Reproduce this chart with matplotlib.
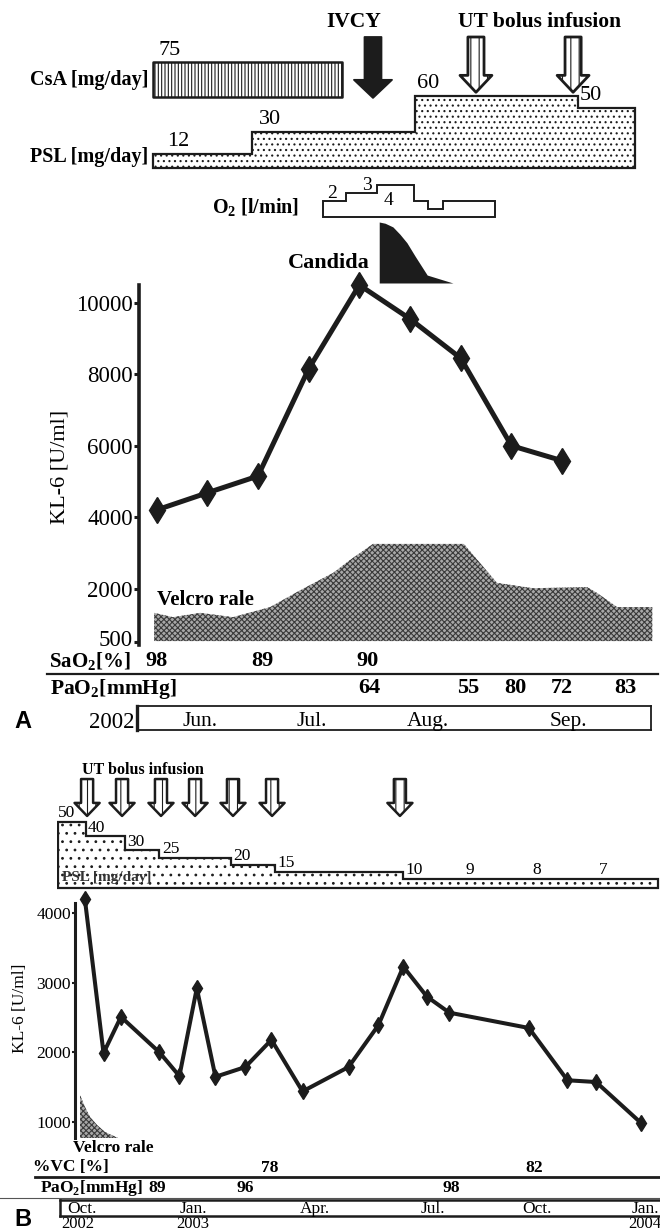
import numpy as np
import matplotlib
matplotlib.use("Agg")
import matplotlib.pyplot as plt
from matplotlib import transforms
from matplotlib.lines import Line2D

plt.rcParams['font.family'] = 'Liberation Serif'
plt.rcParams['mathtext.fontset'] = 'custom'
plt.rcParams['mathtext.rm'] = 'Liberation Serif'
plt.rcParams['mathtext.bf'] = 'Liberation Serif:bold'
plt.rcParams['hatch.linewidth'] = 0.8

INK = '#1c1c1c'

# ---------------- panel A (x = days, starting early June 2002) ----------------
kl_a_day = [5, 18, 31, 44, 57, 70, 83, 96, 109]
kl_a = [4200, 4680, 5150, 8150, 10500, 9550, 8450, 6000, 5580]

rale_a_day = [4.4, 9.2, 16.2, 24.6, 34.1, 41.8, 50.3, 54.6, 60.5, 83.8, 87.9,
              92.3, 101.5, 115.4, 117.9, 123.1, 132.1]
rale_a = [1320, 1200, 1320, 1200, 1480, 1950, 2440, 2800, 3250, 3250, 2720,
          2160, 2010, 2040, 1880, 1480, 1480]

csa_day = [4.1, 52.6]
csa_dose = 75
psl_a_edges = [4.1, 29.5, 71.3, 113.1, 127.7]
psl_a = [12, 30, 60, 50]
o2_edges = [47.7, 53.6, 61.5, 71.0, 74.6, 78.5, 91.8]
o2_flow = [2, 3, 4, 2, 1, 2]
candida_day = [62.1, 63.6, 65.6, 67.4, 69.2, 71.3, 74.4, 81.0]
candida = [100, 98, 92, 80, 66, 44, 13, 0]
ivcy_day = 60.5
ut_a_day = [86.9, 111.8]

sao2_a_day = [5.1, 32.1, 59.2]
sao2_a = [98, 89, 90]
pao2_a_day = [59.5, 84.9, 96.9, 109, 125.1]
pao2_a = [64, 55, 80, 72, 83]
month_a = ['Jun.', 'Jul.', 'Aug.', 'Sep.']
month_a_day = [16.2, 44.9, 74.6, 110.5]

# ---------------- panel B (x = days from 1 Oct 2002) ----------------
kl_b_day = [5, 20, 34, 65, 81, 95, 110, 134, 155, 180, 217, 241, 261, 280,
            298, 362, 393, 416, 452]
kl_b = [4200, 1990, 2510, 2000, 1660, 2920, 1650, 1790, 2180, 1440, 1790,
        2390, 3230, 2800, 2570, 2350, 1600, 1575, 990]
rale_b_day = [1.1, 5.1, 9.2, 14.8, 21.2, 31.7]
rale_b = [1389, 1217, 1073, 958, 858, 772]

psl_b_edges = [-16.8, 6, 37.3, 64.6, 122.5, 157.9, 260.8, 465.8]
psl_b = [50, 40, 30, 25, 20, 15, 10]
psl_b_later = [9, 8, 7]
ut_b_day = [6.8, 34.9, 66.2, 93.6, 124.1, 155.5, 258.3]

vc_day = [154, 366]
vc = [78, 82]
pao2_b_day = [63, 134, 300]
pao2_b = [89, 96, 98]
month_b = ['Oct.', 'Jan.', 'Apr.', 'Jul.', 'Oct.', 'Jan.']
month_b_day = [2.7, 92, 190, 285, 368.5, 456]
year_b = ['2002', '2003', '2004']
year_b_day = [-0.5, 92, 455]

W, H = 660, 1232
fig = plt.figure(figsize=(W / 100, H / 100), dpi=100)


def px_axes(x0, y0, x1, y1):
    a = fig.add_axes([x0 / W, 1 - y1 / H, (x1 - x0) / W, (y1 - y0) / H])
    a.set_facecolor('none')
    return a


def ftxt(x, y, s, **kw):
    kw.setdefault('va', 'center')
    return fig.text(x / W, 1 - y / H, s, **kw)


def hline(x0, x1, y, lw=1.5, color=INK):
    fig.add_artist(Line2D([x0 / W, x1 / W], [1 - y / H, 1 - y / H],
                          transform=fig.transFigure, color=color, lw=lw))


def step_poly(edges, vals, base):
    xs, ys = [edges[0]], [base]
    for i, v in enumerate(vals):
        xs += [edges[i], edges[i + 1]]
        ys += [v, v]
    xs.append(edges[-1])
    ys.append(base)
    return xs, ys


def down_arrow(ax, x, y0, y1, scale, hw, tw, hl, hollow, lw=1.3):
    style = 'simple,head_length=%g,head_width=%g,tail_width=%g' % (hl, hw, tw)
    props = dict(arrowstyle=style, mutation_scale=scale, shrinkA=0, shrinkB=0,
                 lw=lw, ec=INK)
    if hollow:
        props.update(fc='white', hatch='||')
    else:
        props.update(fc=INK)
    ax.annotate('', xy=(x, y1), xytext=(x, y0), arrowprops=props)


XA = (0, 132.8)

# --- treatment block, panel A ---
ax_arr = px_axes(137, 30, 655, 100)
ax_arr.set_xlim(*XA); ax_arr.set_ylim(0, 1); ax_arr.axis('off')
down_arrow(ax_arr, ivcy_day, 0.9, 0.03, 20, 1.37, 0.61, 0.65, False)
for d in ut_a_day:
    down_arrow(ax_arr, d, 0.9, 0.11, 20, 1.15, 0.58, 0.61, True, lw=2)
ftxt(354, 22, 'IVCY', ha='center', fontsize=15.5, fontweight='bold')
ftxt(540, 22, 'UT bolus infusion', ha='center', fontsize=15.5, fontweight='bold')

ax_csa = px_axes(137, 55, 655, 100)
ax_csa.set_xlim(*XA); ax_csa.set_ylim(-6.4, 90); ax_csa.axis('off')
ax_csa.fill_between(csa_day, 0, csa_dose, facecolor='white', edgecolor=INK,
                    hatch='|||||', lw=1.8)
ax_csa.annotate(str(csa_dose), (5.4, csa_dose), xytext=(0, 1.5),
                textcoords='offset points', va='bottom', fontsize=16,
                annotation_clip=False)
ftxt(148, 80, 'CsA [mg/day]', ha='right', fontsize=14.5, fontweight='bold')

ax_psl = px_axes(137, 90, 655, 170)
ax_psl.set_xlim(*XA); ax_psl.set_ylim(-1.67, 65); ax_psl.axis('off')
px_, py_ = step_poly(psl_a_edges, psl_a, 0)
ax_psl.fill(px_, py_, facecolor='white', edgecolor=INK, hatch='...', lw=1.6)
for d, v in zip([7.7, 31.3, 71.8, 113.6], psl_a):
    ax_psl.annotate(str(v), (d, v), xytext=(0, 2), textcoords='offset points',
                    va='bottom', fontsize=16, annotation_clip=False)
ftxt(148, 157, 'PSL [mg/day]', ha='right', fontsize=14.5, fontweight='bold')

ax_o2 = px_axes(137, 175, 655, 220)
ax_o2.set_xlim(*XA); ax_o2.set_ylim(-0.37, 5.19); ax_o2.axis('off')
px_, py_ = step_poly(o2_edges, o2_flow, 0)
ax_o2.fill(px_, py_, facecolor='white', edgecolor=INK, lw=1.4)
for d, y, v in zip([50, 59, 64.6], [2.96, 3.95, 2.1], o2_flow[:3]):
    ax_o2.text(d, y, str(v), ha='center', va='center', fontsize=14)
ftxt(299, 208, r'O$_\mathbf{2}$ [l/min]', ha='right', fontsize=14.5,
     fontweight='bold')

ax_can = px_axes(137, 220, 655, 285)
ax_can.set_xlim(*XA); ax_can.set_ylim(-3.3, 103.3); ax_can.axis('off')
ax_can.fill_between(candida_day, 0, candida, color=INK, lw=0)
ftxt(370, 263, 'Candida', ha='right', fontsize=16, fontweight='bold')

# --- KL-6, panel A ---
ax = px_axes(137, 285, 655, 645)
ax.set_xlim(*XA); ax.set_ylim(420, 10500)
for s in ['top', 'right', 'bottom']:
    ax.spines[s].set_visible(False)
ax.spines['left'].set_position(('data', 0.5))
ax.spines['left'].set_linewidth(2.6)
ax.spines['left'].set_color(INK)
ax.set_xticks([])
ax.set_yticks([500, 2000, 4000, 6000, 8000, 10000])
ax.tick_params(axis='y', length=3.5, width=2.2, pad=1, labelsize=16.5,
               color=INK)
# nudge the lowest label up a little so it sits on top of the SaO2 row
lab500 = ax.get_yticklabels()[0]
lab500.set_transform(lab500.get_transform() +
                     transforms.ScaledTranslation(0, 4 / 100, fig.dpi_scale_trans))
ax.fill_between(rale_a_day, 530, rale_a, facecolor='#a8a8a8',
                edgecolor='#3a3a3a', hatch='xxxxxx', lw=0)
ax.plot(kl_a_day, kl_a, color=INK, lw=3.6, marker='d', ms=13, clip_on=False,
        zorder=5)
ax.text(5.1, 1680, 'Velcro rale', fontsize=15, fontweight='bold', va='center')
ftxt(60, 467, 'KL-6 [U/ml]', rotation=90, ha='center', fontsize=16)

ta = transforms.blended_transform_factory(ax.transData, fig.transFigure)
ftxt(49, 662, r'SaO$_\mathbf{2}$[%]', fontsize=15, fontweight='bold')
for d, v in zip(sao2_a_day, sao2_a):
    ax.text(d, 1 - 661 / H, str(v), transform=ta, ha='center', va='center',
            fontsize=16, fontweight='bold')
hline(47, 658, 674, lw=1.6)
ftxt(50, 689, r'PaO$_\mathbf{2}$[mmHg]', fontsize=15.5, fontweight='bold')
for d, v in zip(pao2_a_day, pao2_a):
    ax.text(d, 1 - 688 / H, str(v), transform=ta, ha='center', va='center',
            fontsize=16, fontweight='bold')

ax_ta = px_axes(137, 706, 651, 730)
ax_ta.set_xlim(0, 131.8); ax_ta.set_ylim(0, 1)
ax_ta.set_xticks([]); ax_ta.set_yticks([])
for s in ax_ta.spines.values():
    s.set_linewidth(1.3); s.set_color(INK)
ax_ta.spines['left'].set_linewidth(2.4)
for d, m in zip(month_a_day, month_a):
    ax_ta.text(d, 0.36, m, ha='center', va='center', fontsize=15.5)
ftxt(134, 722, '2002', ha='right', fontsize=16.5)
ftxt(14, 722, 'A', fontsize=17, fontweight='bold', family='Liberation Sans')

# ---------------- panel B ----------------
XB = (-17.4, 467.4)
ftxt(82, 770, 'UT bolus infusion', fontsize=11.5, fontweight='bold')
ax_arr_b = px_axes(57, 775, 660, 820)
ax_arr_b.set_xlim(*XB); ax_arr_b.set_ylim(0, 1); ax_arr_b.axis('off')
for d in ut_b_day:
    down_arrow(ax_arr_b, d, 0.91, 0.09, 14, 1.29, 0.62, 0.67, True, lw=1.8)

ax_pb = px_axes(57, 810, 660, 890)
ax_pb.set_xlim(*XB); ax_pb.set_ylim(2.3, 58.4); ax_pb.axis('off')
px_, py_ = step_poly(psl_b_edges, psl_b, 3.7)
ax_pb.fill(px_, py_, facecolor='white', edgecolor=INK, hatch='..', lw=1.6)
for d, v in zip([-16.4, 7.6, 38.9, 67, 124.1, 159.5, 262.4], psl_b):
    ax_pb.annotate(str(v), (d, v), xytext=(0, 0.5), textcoords='offset points',
                   va='bottom', fontsize=12.5, annotation_clip=False)
for d, v in zip([314.6, 368.5, 421.6], psl_b_later):
    ax_pb.annotate(str(v), (d, psl_b[-1]), xytext=(0, 0.5),
                   textcoords='offset points', ha='center', va='bottom',
                   fontsize=12.5)
ax_pb.text(-13.6, 11.4, 'PSL [mg/day]', va='center', fontsize=11,
           fontweight='bold', color='#333333')

axb = px_axes(57, 903, 660, 1138)
axb.set_xlim(*XB); axb.set_ylim(772, 4143)
for s in ['top', 'right', 'bottom']:
    axb.spines[s].set_visible(False)
axb.spines['left'].set_position(('data', -2.9))
axb.spines['left'].set_linewidth(2.2)
axb.spines['left'].set_color(INK)
axb.set_xticks([])
axb.set_yticks([1000, 2000, 3000, 4000])
axb.tick_params(axis='y', length=2, width=1.5, pad=1, labelsize=12.5,
                color=INK)
axb.fill_between(rale_b_day, 772, rale_b, facecolor='#a8a8a8',
                 edgecolor='#3a3a3a', hatch='xxxxxx', lw=0)
axb.plot(kl_b_day, kl_b, color=INK, lw=2.9, marker='d', ms=8, clip_on=False,
         zorder=5)
ftxt(20, 1008, 'KL-6 [U/ml]', rotation=90, ha='center', fontsize=12.5)
ftxt(73, 1148, 'Velcro rale', fontsize=12.5, fontweight='bold')

tb = transforms.blended_transform_factory(axb.transData, fig.transFigure)
ftxt(33, 1167, '%VC [%]', fontsize=12.5, fontweight='bold')
for d, v in zip(vc_day, vc):
    axb.text(d, 1 - 1168 / H, str(v), transform=tb, ha='center', va='center',
             fontsize=12.5, fontweight='bold')
hline(35, 660, 1177, lw=2)
ftxt(40, 1188, r'PaO$_\mathbf{2}$[mmHg]', fontsize=12.5, fontweight='bold')
for d, v in zip(pao2_b_day, pao2_b):
    axb.text(d, 1 - 1188 / H, str(v), transform=tb, ha='center', va='center',
             fontsize=12.5, fontweight='bold')

hline(0, 660, 1197.5, lw=0.8, color='#555555')
ax_tb = px_axes(60, 1200, 662, 1216)
ax_tb.set_xlim(-15, 469); ax_tb.set_ylim(0, 1)
ax_tb.set_xticks([]); ax_tb.set_yticks([])
for s in ax_tb.spines.values():
    s.set_linewidth(1.8); s.set_color(INK)
for d, m in zip(month_b_day, month_b):
    ax_tb.text(d, 0.42, m, ha='center', va='center', fontsize=12.5)
for d, y in zip(year_b_day, year_b):
    axb.text(d, 1 - 1224.5 / H, y, transform=tb, ha='center', va='center',
             fontsize=12)
ftxt(14, 1220, 'B', fontsize=17, fontweight='bold', family='Liberation Sans')

fig.savefig('out.png', dpi=100)
